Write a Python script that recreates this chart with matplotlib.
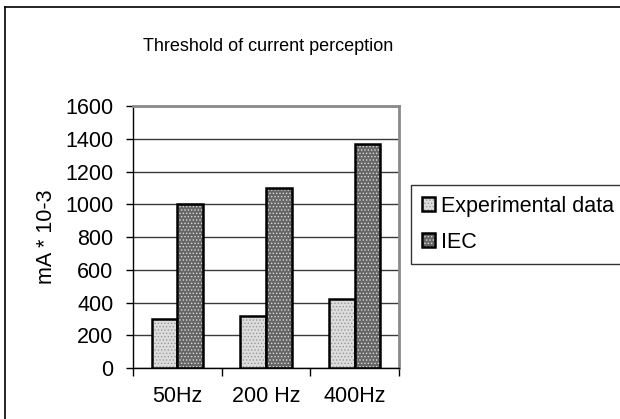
import matplotlib
matplotlib.use("Agg")
import matplotlib.pyplot as plt
from matplotlib.lines import Line2D
import numpy as np

plt.rcParams['font.family'] = ['Liberation Sans', 'DejaVu Sans']
plt.rcParams['hatch.linewidth'] = 0.6

categories = ["50Hz", "200 Hz", "400Hz"]
experimental = [300, 320, 420]
iec = [1000, 1100, 1370]
series_names = ["Experimental data", "IEC"]
yticks = [0, 200, 400, 600, 800, 1000, 1200, 1400, 1600]

fs = 15.5

fig = plt.figure(figsize=(6.2, 4.19), dpi=100)
ax = fig.add_axes([133/620, 1 - 368/419, (399-133)/620, (368-106)/419])

x = np.arange(len(categories))
w = 0.29
b1 = ax.bar(x - w/2, experimental, w, facecolor='#dcdcdc', edgecolor='black',
            linewidth=1.8, hatch='.....', zorder=3)
b2 = ax.bar(x + w/2, iec, w, facecolor='#666666', edgecolor='black',
            linewidth=1.8, hatch='.....', zorder=3)
# hatch colours per series
for p in b1:
    p._hatch_color = (0.6, 0.6, 0.6, 1)
for p in b2:
    p._hatch_color = (0.85, 0.85, 0.85, 1)

ax.set_xlim(-0.5, len(categories) - 0.5)
ax.set_ylim(0, 1600)
ax.set_yticks(yticks)
ax.set_yticklabels([str(v) for v in yticks], fontsize=fs)
ax.set_xticks(x)
ax.set_xticklabels(categories, fontsize=fs)
ax.set_xticks(np.arange(len(categories) + 1) - 0.5, minor=True)
ax.tick_params(axis='x', which='major', length=0, pad=13)
ax.tick_params(axis='x', which='minor', length=6, width=1, color='black', direction='out')
ax.tick_params(axis='y', length=5, width=1, direction='out', pad=9)

ax.yaxis.grid(True, color='#3a3a3a', linewidth=1.0, zorder=0)
ax.set_axisbelow(True)
for s in ['left', 'bottom']:
    ax.spines[s].set_color('black')
    ax.spines[s].set_linewidth(1.0)
for s in ['top', 'right']:
    ax.spines[s].set_color('#8a8a8a')
    ax.spines[s].set_linewidth(2.0)

ax.set_ylabel("mA * 10-3", fontsize=fs, labelpad=6)

fig.text(0.5 * (142 + 394) / 620, 1 - 46/419, "Threshold of current perception",
         fontsize=13, ha='center', va='center')

leg = fig.legend([b1, b2], series_names, loc='upper left',
                 bbox_to_anchor=(411/620, 1 - 185/419), fontsize=fs,
                 frameon=True, fancybox=False, handlelength=0.6, handleheight=0.6,
                 handletextpad=0.3, borderpad=0.5, labelspacing=0.7,
                 borderaxespad=0)
leg.get_frame().set_edgecolor('black')
leg.get_frame().set_linewidth(1.0)

# outer chart border (left and top edges)
fx0, fy0 = 5/620, 1 - 7/419
fig.lines.append(Line2D([fx0, fx0], [-0.01, fy0], transform=fig.transFigure,
                        color='black', linewidth=1.2, solid_capstyle='projecting'))
fig.lines.append(Line2D([fx0, 1.01], [fy0, fy0], transform=fig.transFigure,
                        color='black', linewidth=1.2, solid_capstyle='projecting'))

fig.savefig("out.png", dpi=100)
